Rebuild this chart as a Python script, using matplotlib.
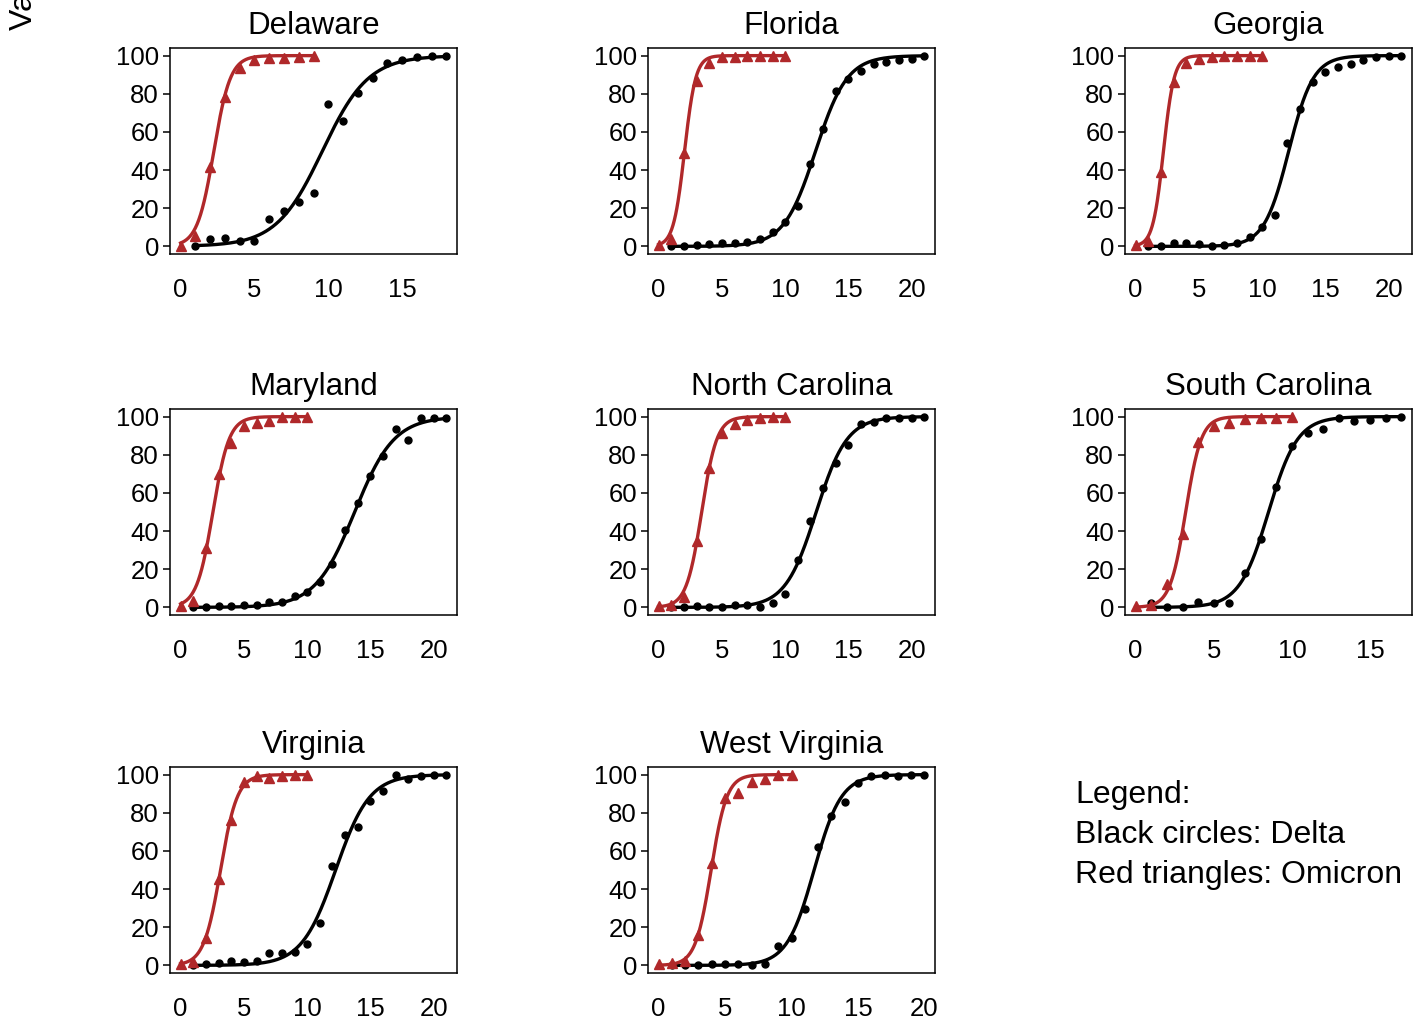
import numpy as np
import matplotlib
matplotlib.use('Agg')
import matplotlib.pyplot as plt

plt.rcParams['font.family'] = ['Liberation Sans', 'DejaVu Sans']

#### data (percent of sequences, by day) ####
states = ['Delaware', 'Florida', 'Georgia', 'Maryland',
          'North Carolina', 'South Carolina', 'Virginia', 'West Virginia']

# Delta (black circles), first day = 1
delaware_delta = [0.3, 3.8, 4.4, 2.6, 3.0, 14.3, 18.7, 23.4, 27.8, 74.7, 65.6, 80.4,
                  88.1, 96.2, 97.9, 99.1, 99.7, 99.7]
florida_delta = [0.2, 0.2, 0.5, 1.0, 1.8, 2.0, 2.1, 3.7, 7.7, 12.6, 21.0, 43.3, 61.4,
                 81.6, 87.7, 91.9, 95.4, 96.8, 97.5, 98.2, 100]
georgia_delta = [0.3, 0.0, 1.8, 2.0, 1.0, 0.4, 0.9, 1.6, 4.9, 10.4, 16.5, 54.4, 71.8,
                 86.3, 91.2, 94.2, 95.6, 97.7, 99.1, 100, 99.8]
maryland_delta = [0.0, 0.0, 0.5, 0.5, 1.2, 1.2, 2.6, 3.0, 5.9, 8.2, 13.5, 22.7, 40.6,
                  54.5, 69.0, 79.4, 93.5, 87.8, 99.1, 99.5, 99.5]
ncarolina_delta = [0.0, 0.0, 0.9, 0.0, 0.0, 1.2, 1.0, 0.2, 2.5, 6.8, 24.9, 45.1, 62.6,
                   75.8, 85.1, 96.3, 97.4, 99.1, 99.5, 99.5, 99.8]
scarolina_delta = [2.3, 0.0, 0.0, 2.6, 2.3, 2.1, 17.9, 36.0, 63.0, 84.6, 91.6, 93.3,
                   99.1, 97.7, 98.1, 99.5, 99.8]
virginia_delta = [0.0, 0.9, 1.2, 2.1, 1.9, 2.3, 6.3, 6.3, 7.2, 11.1, 22.2, 51.9, 68.3,
                  72.7, 86.3, 91.5, 100, 97.7, 99.1, 100, 99.6]
wvirginia_delta = [0.0, 0.0, 0.0, 0.5, 0.9, 0.9, 0.0, 0.9, 10.2, 14.6, 29.6, 61.8, 78.5,
                   85.9, 95.8, 99.1, 99.6, 99.5, 100, 100]

# Omicron (red triangles), first day = 0
delaware_omicron = [0.3, 5.6, 41.8, 78.1, 93.4, 97.9, 98.8, 98.8, 99.5, 100]
florida_omicron = [0.7, 3.9, 48.9, 86.8, 96.0, 99.1, 99.5, 100, 100, 100, 100]
georgia_omicron = [0.5, 2.6, 39.0, 86.3, 96.0, 98.2, 99.1, 100, 100, 100, 100]
maryland_omicron = [0.9, 3.5, 30.9, 69.8, 86.0, 95.3, 96.9, 97.9, 100, 99.7, 100]
ncarolina_omicron = [0.9, 1.2, 5.6, 34.6, 73.2, 91.6, 96.0, 98.2, 99.1, 100, 100]
scarolina_omicron = [0.9, 1.2, 12.1, 38.6, 86.8, 95.1, 96.8, 98.6, 99.5, 99.5, 99.8]
virginia_omicron = [0.9, 1.8, 14.1, 45.4, 76.2, 96.0, 99.1, 98.2, 99.1, 99.6, 100]
wvirginia_omicron = [0.9, 1.2, 2.3, 16.0, 53.9, 87.7, 90.3, 95.9, 97.9, 99.6, 100]

delta_series = [delaware_delta, florida_delta, georgia_delta, maryland_delta,
                ncarolina_delta, scarolina_delta, virginia_delta, wvirginia_delta]
omicron_series = [delaware_omicron, florida_omicron, georgia_omicron, maryland_omicron,
                  ncarolina_omicron, scarolina_omicron, virginia_omicron, wvirginia_omicron]

legend_lines = ['Legend:', 'Black circles: Delta', 'Red triangles: Omicron']

RED = '#B0282A'


def fit_logistic(x, y):
    # least squares logistic fit (upper asymptote 100) by grid search
    mids = np.linspace(-2, 25, 541)
    scales = np.linspace(0.1, 4, 391)
    M, S = np.meshgrid(mids, scales, indexing='ij')
    with np.errstate(over='ignore'):
        pred = 100 / (1 + np.exp(-(x[None, None, :] - M[..., None]) / S[..., None]))
    sse = ((pred - y) ** 2).sum(-1)
    i, j = np.unravel_index(sse.argmin(), sse.shape)
    return mids[i], scales[j]


def fit_curve(x, y):
    m, s = fit_logistic(np.asarray(x, float), np.asarray(y, float))
    xx = np.linspace(x[0], x[-1], 300)
    return xx, 100 / (1 + np.exp(-(xx - m) / s))


fig = plt.figure(figsize=(14.22, 10.18), dpi=100)
W, H = 1422, 1018

col_left = [170, 648, 1125]
row_top = [48, 409, 767]
ax_w, ax_h = 287, 206

for k, state in enumerate(states):
    r, c = divmod(k, 3)
    ax = fig.add_axes([col_left[c] / W, 1 - (row_top[r] + ax_h) / H, ax_w / W, ax_h / H])

    dy = delta_series[k]
    dx = np.arange(1, len(dy) + 1)
    oy = omicron_series[k]
    ox = np.arange(0, len(oy))

    xx, yy = fit_curve(dx, dy)
    ax.plot(xx, yy, color='black', lw=2.4, zorder=2)
    ax.plot(dx, dy, 'o', color='black', ms=5, zorder=3)
    xx, yy = fit_curve(ox, oy)
    ax.plot(xx, yy, color=RED, lw=2.4, zorder=4)
    ax.plot(ox, oy, '^', color=RED, ms=7, zorder=5)

    xmax = dx[-1]
    ax.set_xlim(-0.04 * xmax, 1.04 * xmax)
    ax.set_ylim(-4, 104)
    ax.set_yticks([0, 20, 40, 60, 80, 100])
    ax.set_xticks(np.arange(0, xmax + 1, 5))
    ax.tick_params(axis='y', length=5, width=1.1, pad=3, labelsize=18.5)
    ax.tick_params(axis='x', length=0, pad=17, labelsize=18.5)
    for sp in ax.spines.values():
        sp.set_linewidth(1.1)
    ax.set_title(state, fontsize=22.5, pad=10)

# legend written as plain text in the empty ninth cell
for i, line in enumerate(legend_lines):
    fig.text(1075 / W, 1 - (803 + 40 * i) / H, line, fontsize=23, ha='left', va='baseline')

# shared y label, mostly cut off at the top edge like the reference
fig.text(32 / W, 1 - 30 / H, 'Variant proportion (%)', fontsize=23, rotation=90,
         rotation_mode='anchor', ha='left', va='baseline')

plt.savefig('out.png', dpi=100)
